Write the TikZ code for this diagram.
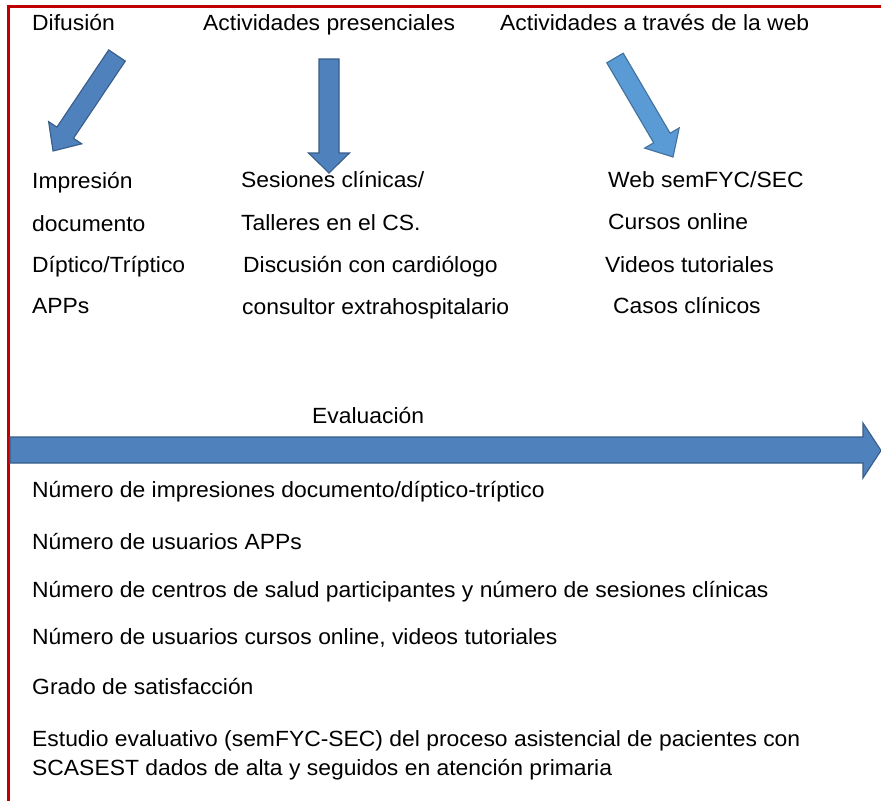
\documentclass[tikz,border=0pt]{standalone}
\usepackage{fontspec}
\setmainfont{Liberation Sans}[FakeStretch=1.04]
\definecolor{frame}{HTML}{C00000}
\definecolor{arrfill}{HTML}{4F81BD}
\definecolor{arrline}{HTML}{385D8A}
\definecolor{arrfillb}{HTML}{5B9BD5}
\definecolor{arrlineb}{HTML}{41719C}
\begin{document}
\begin{tikzpicture}[x=1pt,y=-1pt,
  txt/.style={anchor=base west,inner sep=0pt,font=\fontsize{22}{26}\selectfont},
  blockarrow/.style={fill=arrfill,draw=arrline,line width=1.1pt,line join=miter},
  blockarrowb/.style={fill=arrfillb,draw=arrlineb,line width=1.1pt,line join=miter}]
\useasboundingbox (0,0) rectangle (881,801);
\fill[white] (0,0) rectangle (881,801);
% frame
\draw[frame,line width=3pt] (8.5,801) -- (8.5,6.7) -- (881,6.7);
% headings
\node[txt] (h1) at (32,30) {Difusión};
\node[txt] (h2) at (203,30) {Actividades presenciales};
\node[txt] (h3) at (500,30) {Actividades a través de la web};
% arrows
\draw[blockarrow] (125.3,61.1) -- (73.5,138.3) -- (81.8,143.8) -- (53,151) -- (48.6,121.6) -- (56.9,127.1) -- (108.7,49.9) -- cycle;
\draw[blockarrow] (319,59) -- (339,59) -- (339,153) -- (349.5,153) -- (329,173) -- (308.5,153) -- (319,153) -- cycle;
\draw[blockarrowb] (623.2,53.2) -- (670.1,133.2) -- (679.2,127.9) -- (673,157) -- (644.6,148.1) -- (653.7,142.8) -- (606.8,62.8) -- cycle;
% column 1
\node[txt] (a1) at (32,188) {Impresión};
\node[txt] (a2) at (32,231) {documento};
\node[txt] (a3) at (32,272) {Díptico/Tríptico};
\node[txt] (a4) at (32,313) {APPs};
% column 2
\node[txt] (b1) at (241,187) {Sesiones clínicas/};
\node[txt] (b2) at (241,230) {Talleres en el CS.};
\node[txt] (b3) at (243,272) {Discusión con cardiólogo};
\node[txt] (b4) at (242,314) {consultor extrahospitalario};
% column 3
\node[txt] (c1) at (608,187) {Web semFYC/SEC};
\node[txt] (c2) at (608,229) {Cursos online};
\node[txt] (c3) at (605,272) {Videos tutoriales};
\node[txt] (c4) at (613,313) {Casos clínicos};
% evaluation
\node[txt] (ev) at (312,423) {Evaluación};
\draw[blockarrow] (10,437) -- (863,437) -- (863,423) -- (881,450.5) -- (863,478) -- (863,463) -- (10,463) -- cycle;
% list
\node[txt] (l1) at (32,497) {Número de impresiones documento/díptico-tríptico};
\node[txt] (l2) at (32,549) {Número de usuarios APPs};
\node[txt] (l3) at (32,597) {Número de centros de salud participantes y número de sesiones clínicas};
\node[txt] (l4) at (32,644) {Número de usuarios cursos online, videos tutoriales};
\node[txt] (l5) at (32,694) {Grado de satisfacción};
\node[txt] (l6) at (32,746) {Estudio evaluativo (semFYC-SEC) del proceso asistencial de pacientes con};
\node[txt] (l7) at (32,775) {SCASEST dados de alta y seguidos en atención primaria};
\end{tikzpicture}
\end{document}
